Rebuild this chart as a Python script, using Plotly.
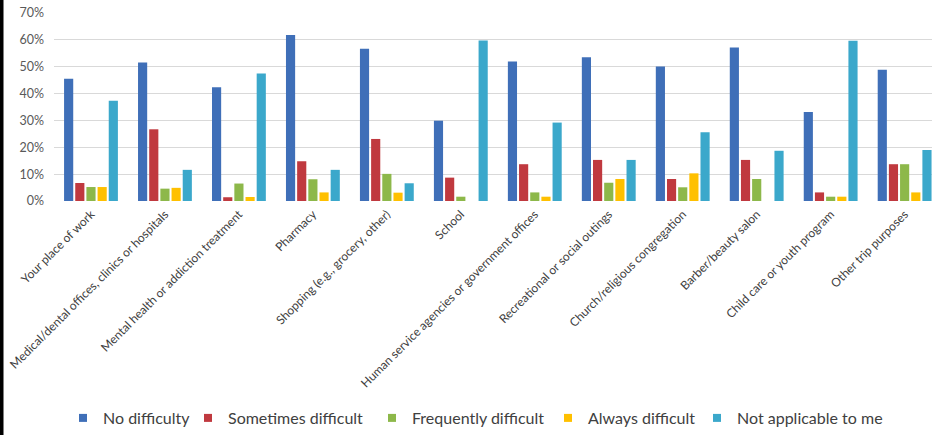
import plotly.graph_objects as go

# Trip purposes (x categories)
purposes = [
    "Your place of work",
    "Medical/dental offices, clinics or hospitals",
    "Mental health or addiction treatment",
    "Pharmacy",
    "Shopping (e.g., grocery, other)",
    "School",
    "Human service agencies or government offices",
    "Recreational or social outings",
    "Church/religious congregation",
    "Barber/beauty salon",
    "Child care or youth program",
    "Other trip purposes",
]

# Share of respondents (%) by difficulty level
no_difficulty = [45.5, 51.6, 42.4, 61.8, 56.7, 29.9, 51.9, 53.5, 50.1, 57.2, 33.1, 48.9]
sometimes_difficult = [6.7, 26.7, 1.4, 14.8, 23.1, 8.7, 13.7, 15.3, 8.2, 15.3, 3.2, 13.7]
frequently_difficult = [5.2, 4.6, 6.5, 8.1, 10.1, 1.6, 3.2, 6.8, 5.1, 8.2, 1.6, 13.7]
always_difficult = [5.2, 4.9, 1.5, 3.2, 3.1, 0.0, 1.6, 8.2, 10.3, 0.0, 1.6, 3.2]
not_applicable = [37.3, 11.6, 47.5, 11.6, 6.6, 59.8, 29.2, 15.3, 25.6, 18.7, 59.7, 19.0]

series_names = ["No difficulty", "Sometimes difficult", "Frequently difficult",
                "Always difficult", "Not applicable to me"]
series_values = [no_difficulty, sometimes_difficult, frequently_difficult,
                 always_difficult, not_applicable]
series_colors = ["#3F6FB8", "#C0393F", "#8DB84A", "#FFC000", "#3BA8CB"]

# Y axis ticks
y_ticks = [0, 10, 20, 30, 40, 50, 60, 70]
y_tick_labels = [f"{v}%" for v in y_ticks]

W, H = 932, 435
ML, MR, MT, MB = 54, 0, 13, 234
PW, PH = W - ML - MR, H - MT - MB

FONT = "Lato"


def px_to_paper_x(px):
    return (px - ML) / PW


def px_to_paper_y(py):
    return (H - MB - py) / PH


fig = go.Figure()

for name, vals, col in zip(series_names, series_values, series_colors):
    fig.add_trace(go.Bar(
        x=purposes, y=vals, name=name, marker=dict(color=col, line=dict(width=0)),
        showlegend=False,
    ))

# One small legend per series, laid out along the bottom
legend_text_x = [103, 228, 412, 588, 737]
legend_keys = ["legend", "legend2", "legend3", "legend4", "legend5"]
for name, col, key in zip(series_names, series_colors, legend_keys):
    fig.add_trace(go.Scatter(
        x=[None], y=[None], mode="markers", name=name,
        marker=dict(symbol="square", size=8, color=col),
        legend=key, showlegend=True,
    ))

legend_layout = {}
for tx, key in zip(legend_text_x, legend_keys):
    legend_layout[key] = dict(
        x=px_to_paper_x(tx - 40), xanchor="left",
        y=px_to_paper_y(419), yanchor="middle",
        orientation="h", bgcolor="rgba(0,0,0,0)",
        font=dict(family=FONT, size=16, color="#404040"),
        itemwidth=30,
    )

fig.update_layout(
    width=W, height=H,
    margin=dict(l=ML, r=MR, t=MT, b=MB, pad=0),
    paper_bgcolor="white", plot_bgcolor="white",
    barmode="group", bargap=0.245, bargroupgap=0.18,
    xaxis=dict(
        type="category", range=[-0.5, 11.37],
        tickangle=-45, showgrid=False, showline=False, ticks="",
        tickfont=dict(family=FONT, size=12, color="#404040"),
        ticklabelstandoff=3,
    ),
    yaxis=dict(
        range=[0, 70], tickvals=y_ticks, ticktext=y_tick_labels,
        showgrid=True, gridcolor="#D9D9D9", gridwidth=1,
        zeroline=False, showline=False, ticks="",
        tickfont=dict(family=FONT, size=12.5, color="#595959"),
        ticklabelstandoff=9,
    ),
    shapes=[dict(
        type="rect", xref="paper", yref="paper",
        x0=px_to_paper_x(0), x1=px_to_paper_x(3.5),
        y0=px_to_paper_y(H), y1=px_to_paper_y(0),
        fillcolor="black", line=dict(width=0), layer="above",
    )],
    **legend_layout,
)

fig.write_html("out.html")
